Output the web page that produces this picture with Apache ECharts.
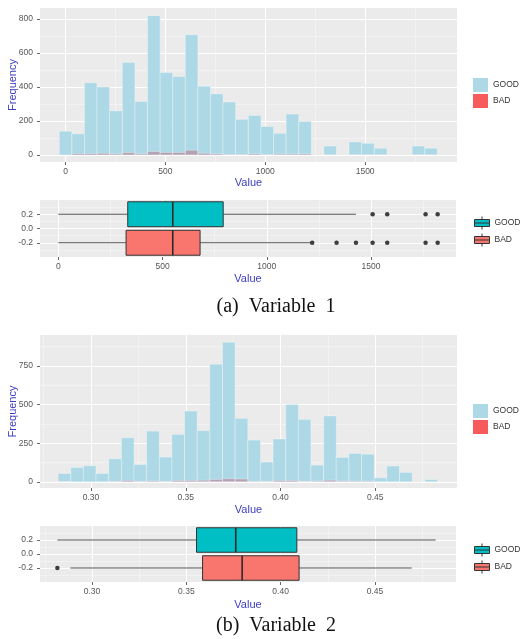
<!DOCTYPE html>
<html><head><meta charset="utf-8">
<script src="https://cdn.jsdelivr.net/npm/echarts@6/dist/echarts.min.js"></script>
<style>html,body{margin:0;padding:0;background:#fff}#c{width:520px;height:639px}</style>
</head><body><div id="c"></div>
<script>
// ---------- DATA ----------
const groups = ['GOOD', 'BAD'];
const groupPos = [0.2, -0.2];

// Variable 1 histogram (bin centers, counts)
const v1BinCenters = [0,63,126,189,252,316,379,442,505,568,631,694,757,820,883,947,1010,1073,1136,1199,1262,1325,1388,1451,1514,1578,1641,1704,1767,1830];
const v1BinWidth = 63.1;
const v1Good = [140,125,425,400,260,545,315,820,485,462,708,405,360,312,210,233,168,128,241,198,0,53,0,77,69,40,0,0,53,40];
const v1Bad  = [0,8,8,10,6,14,6,20,15,15,28,10,6,3,2,6,1,5,5,6,0,1,0,1,1,1,0,0,1,1];

// Variable 2 histogram
const v2BinCenters = [0.2860,0.2927,0.2993,0.3060,0.3127,0.3194,0.3260,0.3327,0.3394,0.3460,0.3527,0.3594,0.3660,0.3727,0.3794,0.3861,0.3927,0.3994,0.4061,0.4127,0.4194,0.4261,0.4327,0.4394,0.4461,0.4528,0.4594,0.4661,0.4728,0.4794];
const v2BinWidth = 0.00667;
const v2Good = [54,93,104,54,149,285,112,328,160,307,458,331,761,903,411,270,128,277,501,404,108,426,158,184,179,26,102,61,0,15];
const v2Bad  = [1,0,0,0,3,8,3,5,2,8,8,10,15,20,18,3,2,8,8,2,4,10,4,4,4,0,0,0,0,0];

// Boxplots: [low whisker, Q1, median, Q3, high whisker]
const v1BoxGood = [0, 333, 549, 791, 1428];
const v1BoxBad  = [0, 325, 549, 680, 1212];
const v1OutGood = [1508, 1578, 1762, 1820];
const v1OutBad  = [1218, 1335, 1428, 1508, 1578, 1762, 1820];
const v2BoxGood = [0.2816, 0.3554, 0.3762, 0.4086, 0.4822];
const v2BoxBad  = [0.2885, 0.3586, 0.3796, 0.4098, 0.4695];
const v2OutGood = [];
const v2OutBad  = [0.2816];

// Tick labels
const v1Ticks = [0, 500, 1000, 1500];
const v1Minor = [250, 750, 1250, 1750];
const freq1Ticks = [0, 200, 400, 600, 800];
const freq1Minor = [100, 300, 500, 700];
const v2Ticks = [0.30, 0.35, 0.40, 0.45];
const v2Minor = [0.275, 0.325, 0.375, 0.425, 0.475];
const freq2Ticks = [0, 250, 500, 750];
const freq2Minor = [125, 375, 625, 875];
const boxYTicks = [-0.2, 0, 0.2];
const boxYMinor = [-0.3, -0.1, 0.1, 0.3];
const captions = ['(a)  Variable  1', '(b)  Variable  2'];

// ---------- STYLE ----------
const FONT = '"Liberation Sans", Arial, sans-serif';
const TICK_COL = '#555';
const TITLE_COL = '#3c3cc0';
const HIST_COLORS = ['#ADD8E6', 'rgba(185,55,80,0.33)'];
const HIST_LEGEND = ['#ADD8E6', '#F65A5A'];
const BOX_COLORS = ['#00BFC4', '#F8766D'];

function mainAxis(dim, gi, min, max, ticks, fmt, name, nameGap) {
  return {
    type: 'value', gridIndex: gi, min: min, max: max,
    name: name || '', nameLocation: 'middle', nameGap: nameGap, nameMoveOverlap: false,
    nameTextStyle: {color: TITLE_COL, fontSize: 11, fontFamily: FONT},
    axisLine: {show: false, onZero: false},
    axisTick: {show: true, length: 3, lineStyle: {color: '#666', width: 1}, customValues: ticks},
    axisLabel: {customValues: ticks, formatter: fmt, color: TICK_COL, fontSize: 8.5, fontFamily: FONT, margin: dim === 'x' ? 5 : 7},
    splitLine: {show: true, lineStyle: {color: '#ffffff', width: 1}}
  };
}
function minorAxis(gi, min, max, vals) {
  return {
    type: 'value', gridIndex: gi, min: min, max: max,
    axisLine: {show: false, onZero: false},
    axisTick: {show: false, customValues: vals},
    axisLabel: {show: false, customValues: vals},
    splitLine: {show: true, lineStyle: {color: '#f7f7f7', width: 0.6}}
  };
}
const fmtInt = v => String(v);
const fmt2 = v => v.toFixed(2);
const fmt1 = v => v.toFixed(1);

const xr = [[-128, 1960], [-88, 1908], [0.2731, 0.4931], [0.2724, 0.493]];
const yr = [[-41, 865], [-0.4, 0.4], [-40, 950], [-0.4, 0.4]];

const xAxes = [
  mainAxis('x', 0, xr[0][0], xr[0][1], v1Ticks, fmtInt, 'Value', 15),
  mainAxis('x', 1, xr[1][0], xr[1][1], v1Ticks, fmtInt, 'Value', 16),
  mainAxis('x', 2, xr[2][0], xr[2][1], v2Ticks, fmt2, 'Value', 16),
  mainAxis('x', 3, xr[3][0], xr[3][1], v2Ticks, fmt2, 'Value', 17),
  minorAxis(0, xr[0][0], xr[0][1], v1Minor),
  minorAxis(1, xr[1][0], xr[1][1], v1Minor),
  minorAxis(2, xr[2][0], xr[2][1], v2Minor),
  minorAxis(3, xr[3][0], xr[3][1], v2Minor)
];
const yAxes = [
  mainAxis('y', 0, yr[0][0], yr[0][1], freq1Ticks, fmtInt, 'Frequency', 22),
  mainAxis('y', 1, yr[1][0], yr[1][1], boxYTicks, fmt1, '', 20),
  mainAxis('y', 2, yr[2][0], yr[2][1], freq2Ticks, fmtInt, 'Frequency', 22),
  mainAxis('y', 3, yr[3][0], yr[3][1], boxYTicks, fmt1, '', 20),
  minorAxis(0, yr[0][0], yr[0][1], freq1Minor),
  minorAxis(1, yr[1][0], yr[1][1], boxYMinor),
  minorAxis(2, yr[2][0], yr[2][1], freq2Minor),
  minorAxis(3, yr[3][0], yr[3][1], boxYMinor)
];

function histSeries(name, ai, centers, counts, width, color, z) {
  return {
    type: 'custom', name: name, xAxisIndex: ai, yAxisIndex: ai, z: z, silent: true,
    data: centers.map((c, i) => [c, counts[i]]),
    encode: {x: 0, y: 1},
    renderItem: function (params, api) {
      const c = api.value(0), v = api.value(1);
      if (!v) return null;
      const p0 = api.coord([c - width / 2, v]);
      const p1 = api.coord([c + width / 2, 0]);
      return {type: 'rect',
        shape: {x: p0[0], y: p0[1], width: p1[0] - p0[0], height: p1[1] - p0[1]},
        style: {fill: color, stroke: 'rgba(255,255,255,0.45)', lineWidth: 0.7}};
    }
  };
}
function boxSeries(name, ai, pos, stats, color) {
  return {
    type: 'custom', name: name, xAxisIndex: ai, yAxisIndex: ai, z: 3, silent: true,
    data: [[pos].concat(stats)],
    encode: {x: [1, 2, 3, 4, 5], y: 0},
    renderItem: function (params, api) {
      const y = api.value(0), lo = api.value(1), q1 = api.value(2), md = api.value(3), q3 = api.value(4), hi = api.value(5);
      const h = 0.175;
      const a = api.coord([q1, y + h]), b = api.coord([q3, y - h]);
      const L = api.coord([lo, y]), H = api.coord([hi, y]);
      const m1 = api.coord([md, y + h]), m2 = api.coord([md, y - h]);
      return {type: 'group', children: [
        {type: 'line', shape: {x1: L[0], y1: L[1], x2: a[0], y2: L[1]}, style: {stroke: '#555', lineWidth: 1}},
        {type: 'line', shape: {x1: b[0], y1: H[1], x2: H[0], y2: H[1]}, style: {stroke: '#555', lineWidth: 1}},
        {type: 'rect', shape: {x: a[0], y: a[1], width: b[0] - a[0], height: b[1] - a[1]}, style: {fill: color, stroke: '#333', lineWidth: 1}},
        {type: 'line', shape: {x1: m1[0], y1: m1[1], x2: m2[0], y2: m2[1]}, style: {stroke: '#2a2a2a', lineWidth: 1.6}}
      ]};
    }
  };
}
function outSeries(ai, pos, vals) {
  return {type: 'scatter', name: 'outliers', xAxisIndex: ai, yAxisIndex: ai, z: 4, silent: true,
    symbolSize: 4.5, itemStyle: {color: '#111'},
    data: vals.map(v => [v, pos])};
}

const series = [
  histSeries(groups[0], 0, v1BinCenters, v1Good, v1BinWidth, HIST_COLORS[0], 2),
  histSeries(groups[1], 0, v1BinCenters, v1Bad, v1BinWidth, HIST_COLORS[1], 3),
  histSeries(groups[0], 2, v2BinCenters, v2Good, v2BinWidth, HIST_COLORS[0], 2),
  histSeries(groups[1], 2, v2BinCenters, v2Bad, v2BinWidth, HIST_COLORS[1], 3),
  boxSeries(groups[0], 1, groupPos[0], v1BoxGood, BOX_COLORS[0]),
  boxSeries(groups[1], 1, groupPos[1], v1BoxBad, BOX_COLORS[1]),
  boxSeries(groups[0], 3, groupPos[0], v2BoxGood, BOX_COLORS[0]),
  boxSeries(groups[1], 3, groupPos[1], v2BoxBad, BOX_COLORS[1]),
  outSeries(1, groupPos[0], v1OutGood),
  outSeries(1, groupPos[1], v1OutBad),
  outSeries(3, groupPos[0], v2OutGood),
  outSeries(3, groupPos[1], v2OutBad)
];

const BOX_ICON = 'path://M7.5,0L7.5,3M0,3L15,3L15,10L0,10ZM0,6.5L15,6.5M7.5,10L7.5,13';
function histLegend(top) {
  return {orient: 'vertical', left: 473, top: top, padding: 0, itemGap: 2, itemWidth: 15, itemHeight: 14,
    selectedMode: false, textStyle: {fontSize: 8.5, color: '#333', fontFamily: FONT},
    data: groups.map((g, i) => ({name: g, icon: 'rect', itemStyle: {color: HIST_LEGEND[i], borderWidth: 0}}))};
}
function boxLegend(top) {
  return {orient: 'vertical', left: 474, top: top, padding: 0, itemGap: 3, itemWidth: 15, itemHeight: 13,
    selectedMode: false, textStyle: {fontSize: 8.5, color: '#333', fontFamily: FONT},
    data: groups.map((g, i) => ({name: g, icon: BOX_ICON, itemStyle: {color: BOX_COLORS[i], borderColor: '#333', borderWidth: 1}}))};
}

const GRID_BASE = {show: true, backgroundColor: '#EBEBEB', borderWidth: 0, containLabel: false, outerBoundsMode: 'none'};
const option = {
  animation: false,
  backgroundColor: '#ffffff',
  grid: [
    Object.assign({left: 40, top: 8, width: 417, height: 154}, GRID_BASE),
    Object.assign({left: 40, top: 200, width: 416, height: 57}, GRID_BASE),
    Object.assign({left: 40, top: 335, width: 417, height: 153}, GRID_BASE),
    Object.assign({left: 40, top: 526, width: 416, height: 56}, GRID_BASE)
  ],
  xAxis: xAxes,
  yAxis: yAxes,
  legend: [histLegend(78), boxLegend(216), histLegend(404), boxLegend(543)],
  series: series,
  graphic: [
    {type: 'text', x: 276, y: 307, style: {text: captions[0], font: '20px "Liberation Serif", "Times New Roman", serif', fill: '#111', align: 'center', verticalAlign: 'middle', textAlign: 'center', textVerticalAlign: 'middle'}},
    {type: 'text', x: 276, y: 626, style: {text: captions[1], font: '20px "Liberation Serif", "Times New Roman", serif', fill: '#111', align: 'center', verticalAlign: 'middle', textAlign: 'center', textVerticalAlign: 'middle'}}
  ]
};
const chart = echarts.init(document.getElementById('c'), null, {renderer: 'canvas'});
chart.setOption(option);
</script>
</body></html>
